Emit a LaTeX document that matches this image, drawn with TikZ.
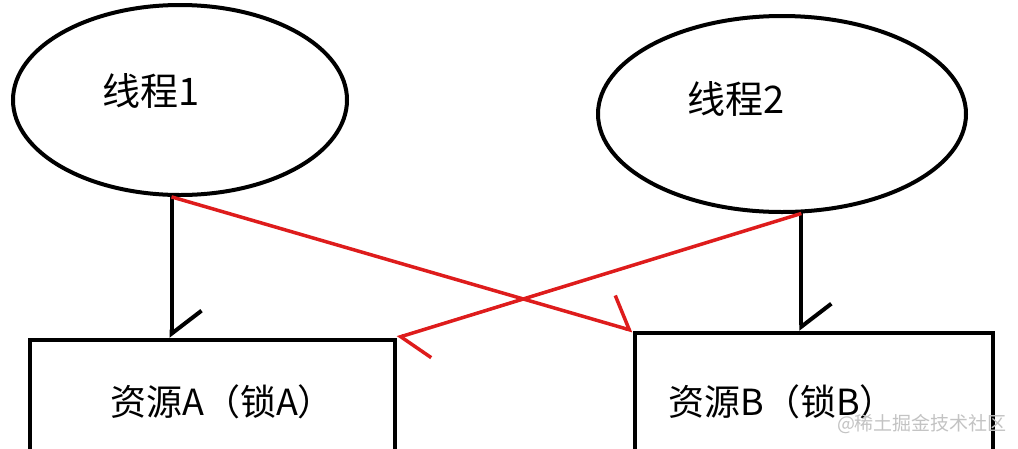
\documentclass[tikz,border=0pt]{standalone}
\usepackage{fontspec}
\newfontfamily\cjk{Noto Sans CJK SC}
\usetikzlibrary{arrows.meta}
\usetikzlibrary{shapes.geometric}
\definecolor{lockred}{RGB}{222,28,28}
\definecolor{markgray}{RGB}{195,195,195}

\begin{document}
\begin{tikzpicture}[x=1pt,y=-1pt]
  \tikzset{thread/.style = {shape=ellipse,draw,line width=4pt,inner sep=0pt}}
  \tikzset{res/.style = {shape=rectangle,draw,line width=4.5pt,inner sep=0pt}}
  \tikzset{txt/.style = {font=\cjk\fontsize{38}{40}\selectfont,inner sep=0pt}}
  \tikzset{hold/.style = {line width=4pt,-{Straight Barb[harpoon,length=23pt,width=60pt,line width=4pt]}}}
  \tikzset{want/.style = {lockred,line width=3.5pt,-{Straight Barb[harpoon,length=23pt,width=58pt,line width=3.5pt]}}}

  \useasboundingbox (0,0) rectangle (1018,448);
  \clip (0,0) rectangle (1018,448);
  \fill[white] (0,0) rectangle (1018,448);

	% threads
	\node[thread,minimum width=334pt,minimum height=190pt] (e1) at (180,100) {};
	\node[thread,minimum width=368pt,minimum height=196pt] (e2) at (782,114) {};
	\node[txt] (l1) at (151,91) {线程1};
	\node[txt] (l2) at (736,99) {线程2};

	% resources
	\node[res,minimum width=365pt,minimum height=140pt] (A) at (212.5,410) {};
	\node[res,minimum width=358pt,minimum height=147pt] (B) at (814,406.5) {};
	\node[txt,font=\cjk\fontsize{36}{38}\selectfont] (la) at (222,402) {资源A（锁A）};
	\node[txt,font=\cjk\fontsize{36}{38}\selectfont] (lb) at (782,402) {资源B（锁B）};

	\node[text=markgray,font=\cjk\fontsize{19}{20}\selectfont,inner sep=0pt] (wm) at (922,424) {@稀土掘金技术社区};

	\foreach \t/\r in {e1.-95/A, e2.-79/B}
    \draw[hold] (\t) -- (\t |- \r.north);
	\foreach \from/\to in {e1.-95/B.north west, e2.-79/A.north east}
    \draw[want] (\from) -- (\to);
\end{tikzpicture}
\end{document}
